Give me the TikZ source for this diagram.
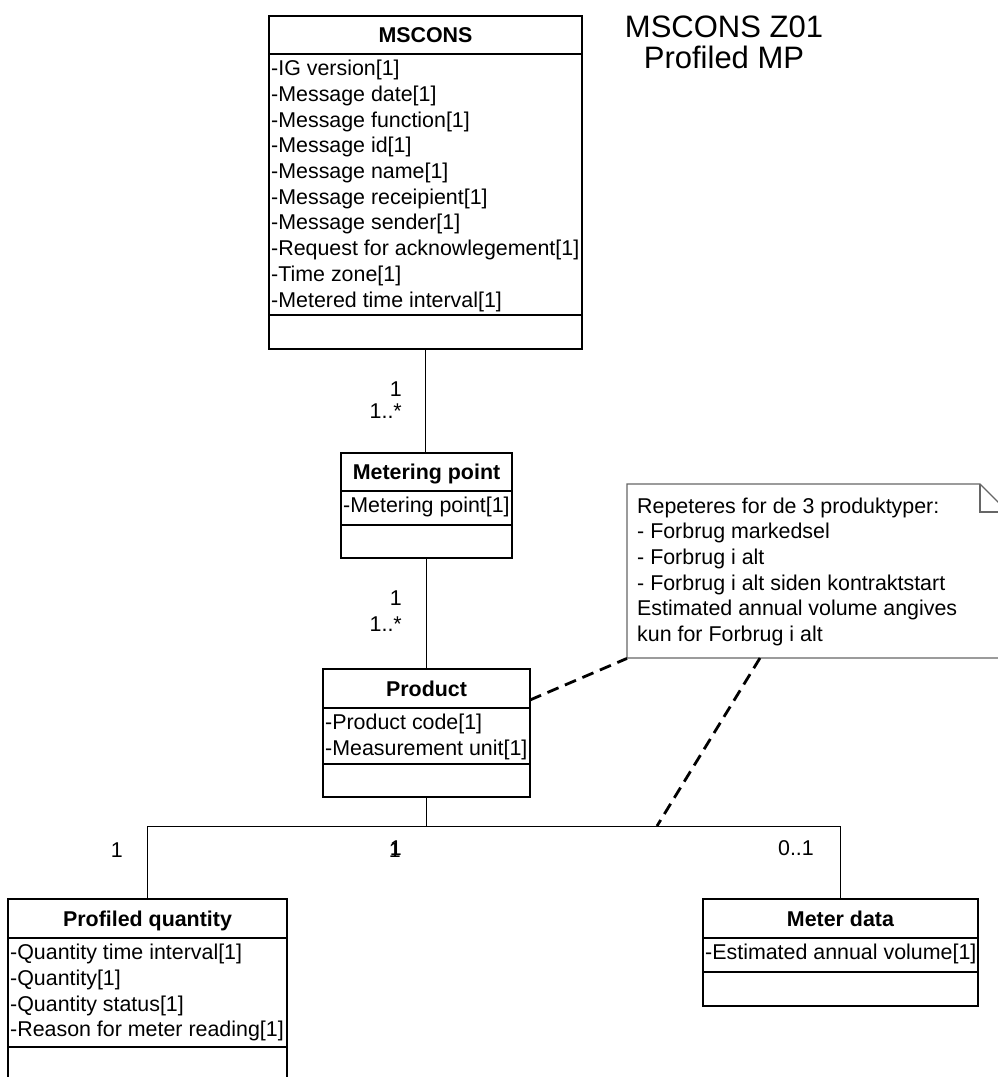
\documentclass[tikz,border=0pt]{standalone}
\usepackage{fontspec}
\setmainfont{Liberation Sans}
\newcommand\attrfont{\fontsize{21.4}{25.7}\selectfont}
\newcommand\hdrfont{\fontsize{21.4}{25.7}\selectfont\bfseries}
\newcommand\titlefont{\fontsize{31}{31}\selectfont}
\tikzset{
  classbox/.style={draw, line width=1.6pt, inner sep=0pt, outer sep=0pt, anchor=north west, fill=white},
  divider/.style={line width=1.6pt},
  attr/.style={font=\attrfont, inner sep=0pt, anchor=base west},
  hdr/.style={font=\hdrfont, inner sep=0pt, anchor=base},
  mult/.style={font=\attrfont, inner sep=0pt, anchor=base east},
  assoc/.style={line width=1pt},
  notelink/.style={line width=2.8pt, dash pattern=on 12pt off 7pt},
  noteframe/.style={draw=black!60, line width=1.3pt},
  titletext/.style={font=\titlefont, inner sep=0pt, anchor=base}
}
% #1 name, #2 left, #3 right, #4 top, #5 header line, #6 divider, #7 bottom, #8 title, #9 attributes
\newcommand\umlclass[9]{%
  \node[classbox, minimum width={(#3-#2)*1pt}, minimum height={(#7-#4)*1pt}] (#1) at (#2,#4) {};
  \draw[divider] (#2,#5) -- (#3,#5) (#2,#6) -- (#3,#6);
  \node[hdr] (#1-title) at ({(#2+#3)/2},{(#4+#5)/2+7.5}) {#8};
  \foreach \t [count=\i from 0] in {#9} {\node[attr] (#1-a\i) at (#2+2,{#5+21.7+25.7*\i}) {\t};}
}
\begin{document}
\begin{tikzpicture}[x=1pt,y=-1pt]
\useasboundingbox (0,0) rectangle (998,1077);
\clip (0,0) rectangle (998,1077);

% title
\node[titletext] (title1) at (724,37) {MSCONS Z01};
\node[titletext] (title2) at (724,68) {Profiled MP};

% classes
\umlclass{msc}{269}{582}{16}{54}{315}{349}{MSCONS}{-IG version[1],-Message date[1],-Message function[1],-Message id[1],-Message name[1],-Message receipient[1],-Message sender[1],-Request for acknowlegement[1],-Time zone[1],-Metered time interval[1]}
\umlclass{mp}{341}{512}{453}{491}{525}{558}{Metering point}{-Metering point[1]}
\umlclass{prod}{323}{530}{669}{708}{764}{797}{Product}{-Product code[1],-Measurement unit[1]}
\umlclass{pq}{8}{287}{899}{938}{1047}{1095}{Profiled quantity}{-Quantity time interval[1],-Quantity[1],-Quantity status[1],-Reason for meter reading[1]}
\umlclass{md}{703}{978}{899}{938}{972}{1006}{Meter data}{-Estimated annual volume[1]}

% associations
\coordinate (bus) at (426,826);
\draw[assoc] (msc.south) -- (msc.south |- mp.north);
\draw[assoc] (mp.south) -- (mp.south |- prod.north);
\draw[assoc] (prod.south) -- (prod.south |- bus);
\draw[assoc] (pq.north) -- (pq.north |- bus) -- (md.north |- bus) -- (md.north);

% multiplicities
\node[mult] (m1) at (402,396) {1};
\node[mult] (m2) at (402,418) {1..*};
\node[mult] (m3) at (402,605) {1};
\node[mult] (m4) at (402,631) {1..*};
\node[mult] (m5) at (123,857) {1};
\node[mult] (m6) at (401,857) {1};
\node[mult] (m7) at (402,855) {1};
\node[mult] (m8) at (814,855) {0..1};

% note
\node[inner sep=0pt, minimum width=381pt, minimum height=174pt, anchor=north west] (note) at (627,484) {};
\draw[noteframe, fill=white] (627,484) -- (980,484) -- (1008,512) -- (1008,658) -- (627,658) -- cycle;
\draw[noteframe] (980,484) -- (980,512) -- (1008,512);
\foreach \t [count=\i from 0] in {Repeteres for de 3 produktyper:,- Forbrug markedsel,- Forbrug i alt,- Forbrug i alt siden kontraktstart,Estimated annual volume angives,kun for Forbrug i alt}
  {\node[attr] (note-l\i) at (637,{513+25.7*\i}) {\t};}

% note links
\coordinate (prodn) at (530,700);
\coordinate (noteb) at (760,658);
\coordinate (busn) at (657,826);
\draw[notelink] (prodn) -- (note.south west);
\draw[notelink] (noteb) -- (busn);
\end{tikzpicture}
\end{document}
